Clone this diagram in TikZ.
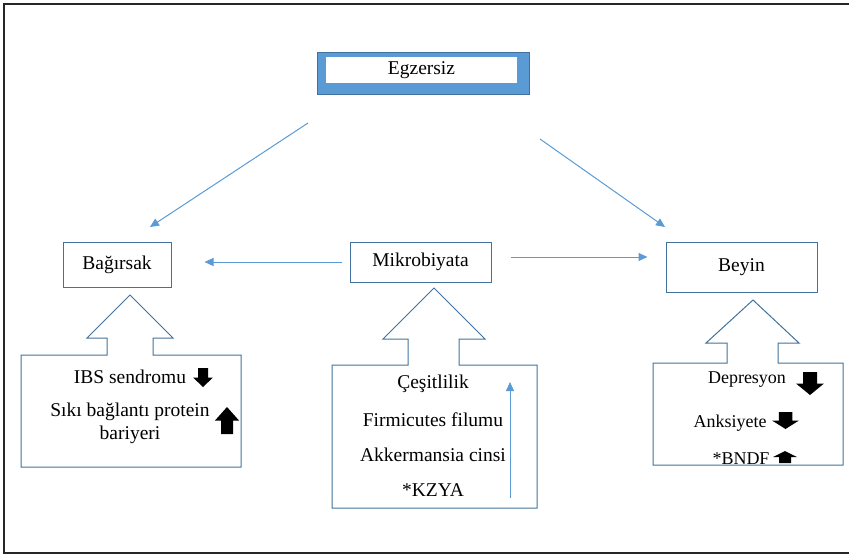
\documentclass[tikz,border=0pt]{standalone}
\usepackage{fontspec}
\setmainfont{LiberationSerif}[Extension=.ttf, UprightFont=*-Regular, BoldFont=*-Bold]
\usetikzlibrary{arrows.meta}

\definecolor{accblue}{HTML}{5B9BD5}
\definecolor{boxblue}{HTML}{41719C}

\tikzset{
  box/.style={draw=boxblue, line width=1pt, fill=white, inner sep=0pt},
  hollow/.style={draw=boxblue, line width=1pt, line join=miter},
  conn/.style={draw=accblue, line width=1pt, -{Triangle[width=8pt,length=9pt]}},
  txt/.style={anchor=center, inner sep=0pt, font=\fontsize{19.5}{23}\selectfont},
  smalltxt/.style={txt, font=\fontsize{18}{22}\selectfont},
}

% 黑色实心小箭头：x, 顶端 y, 宽, 高
\newcommand{\blkdown}[4]{\fill ({#1-#3/4},{#2}) -- ({#1+#3/4},{#2}) -- ({#1+#3/4},{#2+0.5*#4}) -- ({#1+#3/2},{#2+0.5*#4}) -- ({#1},{#2+#4}) -- ({#1-#3/2},{#2+0.5*#4}) -- ({#1-#3/4},{#2+0.5*#4}) -- cycle;}
% x, 底端 y, 宽, 高
\newcommand{\blkup}[4]{\fill ({#1-#3/4},{#2}) -- ({#1+#3/4},{#2}) -- ({#1+#3/4},{#2-0.5*#4}) -- ({#1+#3/2},{#2-0.5*#4}) -- ({#1},{#2-#4}) -- ({#1-#3/2},{#2-0.5*#4}) -- ({#1-#3/4},{#2-0.5*#4}) -- cycle;}

\begin{document}
\begin{tikzpicture}[x=1pt, y=-1pt]

  %% ════ 外框 ════
  \draw[line width=1.5pt, black!85] (851,4) -- (4,4) -- (4,553) -- (851,553);

  %% ════ 顶部：Egzersiz ════
  \draw[draw=boxblue, fill=accblue, line width=0.8pt] (317,52) rectangle (529,94);
  \node[txt, fill=white, minimum width=191pt, minimum height=26pt] (egz) at (421.5,70) {Egzersiz};

  %% ════ 三个方框 ════
  \node[box, txt, minimum width=108pt, minimum height=45pt] (bag) at (117,264.5) {Bağırsak};
  \node[box, txt, minimum width=141pt, minimum height=40pt] (mik) at (420.5,262) {Mikrobiyata};
  \node[box, txt, minimum width=151pt, minimum height=50pt] (bey) at (741.5,267) {Beyin};

  %% ════ 空心箭头 + 下方框 ════
  \draw[hollow] (21,355) -- (107,355) -- (107,338) -- (87,338) -- (130,295) -- (173,338)
    -- (153,338) -- (153,355) -- (241,355) -- (241,467) -- (21,467) -- cycle;
  \draw[hollow] (332,365) -- (408,365) -- (408,339) -- (383,339) -- (434,288) -- (485,339)
    -- (459,339) -- (459,365) -- (537,365) -- (537,508) -- (332,508) -- cycle;
  \draw[hollow] (653,363) -- (727,363) -- (727,343) -- (706,343) -- (753,300) -- (799,343)
    -- (778,343) -- (778,363) -- (843,363) -- (843,465) -- (653,465) -- cycle;

  %% ════ 连线 ════
  \coordinate (egzL) at (308,123);
  \coordinate (bagT) at (150,227);
  \coordinate (egzR) at (540,139);
  \coordinate (beyT) at (665,227);
  \draw[conn] (egzL) -- (bagT);
  \draw[conn] (egzR) -- (beyT);
  \draw[conn, shorten <=8pt, shorten >=33pt] (mik.west) -- (mik.west -| bag.east);
  \draw[conn, shorten <=19pt, shorten >=18pt] ([yshift=5pt]mik.east) -- ([yshift=5pt]mik.east -| bey.west);

  % 中间框内的细箭头
  \coordinate (kzyB) at (510,498);
  \coordinate (kzyT) at (510,382);
  \draw[conn, line width=0.8pt] (kzyB) -- (kzyT);

  %% ════ 文字 ════
  \node[txt] (ibs) at (130,377) {IBS sendromu};
  \node[txt, align=center] (siki) at (130,423) {Sıkı bağlantı protein\\bariyeri};

  \node[txt] (cesit) at (433,384) {Çeşitlilik};
  \node[txt] (firm) at (433,420) {Firmicutes filumu};
  \node[txt] (akk) at (433,455) {Akkermansia cinsi};
  \node[txt] (kzya) at (433,490) {*KZYA};

  \node[smalltxt] (dep) at (747,380) {Depresyon};
  \node[smalltxt] (anks) at (730,423) {Anksiyete};
  \node[smalltxt] (bndf) at (741,459) {*BNDF};

  %% ════ 黑色小箭头 ════
  \blkdown{203}{368}{20}{19}
  \blkup{227}{434}{24}{27}
  \blkdown{810}{372}{28}{23}
  \blkdown{785.5}{412}{27}{17}
  \blkup{785}{463}{24}{12}

  \pgfresetboundingbox
  \path[use as bounding box] (0,0) rectangle (849,555);
\end{tikzpicture}
\end{document}
